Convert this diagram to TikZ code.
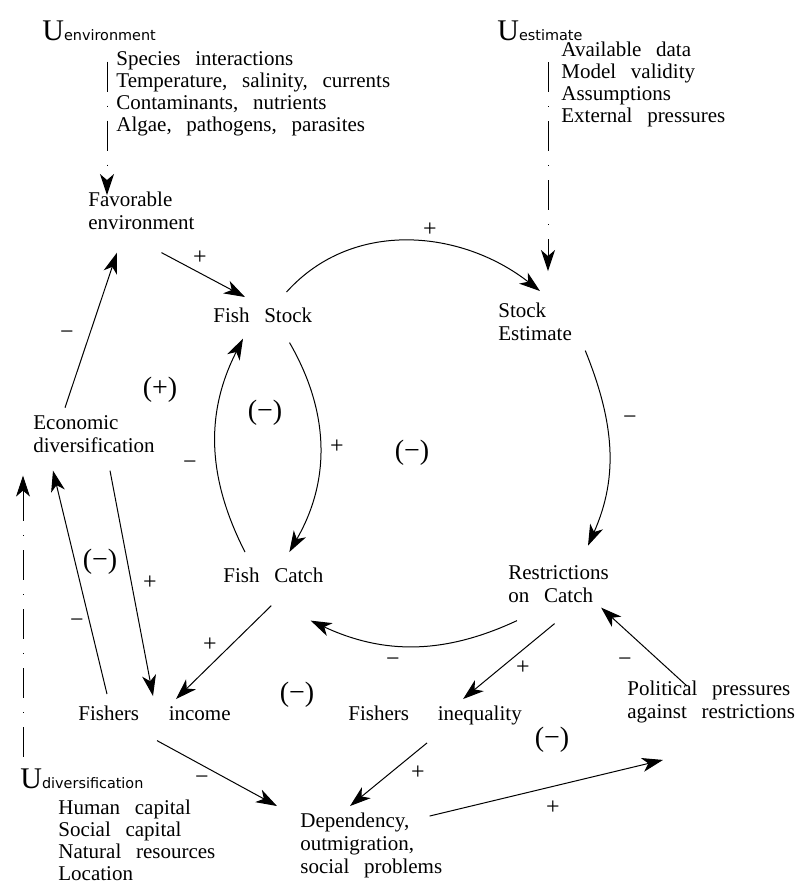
\documentclass[tikz,border=0pt]{standalone}
\usepackage{fontspec}
\setmainfont{Liberation Serif}[WordSpace=2.8]
\newfontfamily\usubfont{DejaVu Sans}
\usetikzlibrary{arrows.meta}
\newcommand{\ulabel}[1]{{\fontsize{15}{15}\selectfont U}{\usubfont\fontsize{7.2}{8}\selectfont #1}}
\tikzset{
  txt/.style={anchor=base west, inner sep=0pt, align=left, font=\fontsize{10.5}{11.5}\selectfont},
  lst/.style={txt, font=\fontsize{10.5}{11}\selectfont},
  sgn/.style={inner sep=0pt, font=\fontsize{12}{12}\selectfont},
  loopsgn/.style={inner sep=0pt, font=\fontsize{14}{14}\selectfont},
  arr/.style={-{Stealth[length=10.5pt,width=7pt,inset=3pt]}, line width=0.5pt},
  unc/.style={arr, dash pattern=on 15pt off 7pt on 0.5pt off 7pt},
}
\begin{document}
\begin{tikzpicture}[x=0.5pt,y=-0.5pt]
	\useasboundingbox (0,0) rectangle (804,885);
	%%uncertainty lists (multi-line nodes sit on their last line)
	\node[txt] (uenv) at (42,40) {\ulabel{environment}};
	\node[lst] (envlist) at (116,131) {Species interactions\\Temperature, salinity, currents\\Contaminants, nutrients\\Algae, pathogens, parasites};
	\node[txt] (uest) at (497,40) {\ulabel{estimate}};
	\node[lst] (estlist) at (561,122) {Available data\\Model validity\\Assumptions\\External pressures};
	\node[txt] (udiv) at (20,788) {\ulabel{diversification}};
	\node[lst] (divlist) at (58,880) {Human capital\\Social capital\\Natural resources\\Location};
	
	%%variables
	\node[txt] (favenv) at (88,229) {Favorable\\environment};
	\node[txt] (fstock) at (213,322) {Fish Stock};
	\node[txt] (stockest) at (498,340) {Stock\\Estimate};
	\node[txt] (econ) at (33,452) {Economic\\diversification};
	\node[txt] (fcatch) at (223,582) {Fish Catch};
	\node[txt] (restr) at (508,602) {Restrictions\\on Catch};
	\node[txt] (fincome) at (78,720) {Fishers\hspace{7.5pt} income};
	\node[txt] (fineq) at (348,720) {Fishers\hspace{7pt} inequality};
	\node[txt] (polit) at (627,718) {Political pressures\\against restrictions};
	\node[txt] (depend) at (300,873) {Dependency,\\outmigration,\\social problems};
	
	%links%
	\draw[unc] ([shift={(-9,11)}]envlist.north west) -- ([shift={(19,4)}]favenv.north west);
	\draw[unc] ([shift={(-13,21)}]estlist.north west) -- ([shift={(50,-31)}]stockest.north west);
	\draw[unc] ([shift={(3,-11)}]udiv.north west) -- ([shift={(-10,23)}]econ.south west);
	
	\draw[arr] ([shift={(20,23)}]favenv.south) -- ([shift={(32,-10)}]fstock.north west);
	\draw[arr] ([shift={(32,-7)}]econ.north west) -- ([shift={(29,23)}]favenv.south west);
	\draw[arr] ([shift={(-26,-15)}]fstock.north east) to[out=48,in=142] ([shift={(42,-11)}]stockest.north west);
	\draw[arr] ([shift={(13,10)}]stockest.south east) to[out=-68,in=66] ([shift={(80,-19)}]restr.north west);
	\draw[arr] ([shift={(-23,20)}]fstock.south east) to[out=-60,in=60] ([shift={(16,-15)}]fcatch.north);
	\draw[arr] ([shift={(22,-15)}]fcatch.north west) to[out=117,in=-117] ([shift={(30,16)}]fstock.south west);
	\draw[arr] ([shift={(9,18)}]restr.south west) to[out=-155,in=-25] ([shift={(-13,38)}]fcatch.south east);
	\draw[arr] ([shift={(60,6)}]polit.north west) -- ([shift={(-8,5)}]restr.south east);
	\draw[arr] ([shift={(-4,21)}]restr.south) -- ([shift={(28,-6)}]fineq.north);
	\draw[arr] ([shift={(-2,23)}]fcatch.south) -- ([shift={(-55,-6)}]fincome.north east);
	\draw[arr] ([shift={(77,18)}]econ.south west) -- ([shift={(75,-9)}]fincome.north west);
	\draw[arr] ([shift={(29,-11)}]fincome.north west) -- ([shift={(20,18)}]econ.south west);
	\draw[arr] ([shift={(79,20)}]fincome.south west) -- ([shift={(-23,-6)}]depend.north west);
	\draw[arr] ([shift={(79,18)}]fineq.south west) -- ([shift={(50,-6)}]depend.north west);
	\draw[arr] ([shift={(-13,4)}]depend.north east) -- ([shift={(36,37)}]polit.south west);
	
	%signs%
	\node[sgn] (p1) at (200,258) {+};
	\node[sgn] (p2) at (430,230) {+};
	\node[sgn] (m1) at (67,335) {−};
	\node[loopsgn] (l1) at (160,390) {(+)};
	\node[loopsgn] (l2) at (265,413) {(−)};
	\node[sgn] (p3) at (337,447) {+};
	\node[sgn] (m2) at (190,465) {−};
	\node[loopsgn] (l3) at (412,453) {(−)};
	\node[sgn] (m3) at (630,420) {−};
	\node[loopsgn] (l4) at (100,562) {(−)};
	\node[sgn] (p4) at (150,583) {+};
	\node[sgn] (m4) at (77,623) {−};
	\node[sgn] (p5) at (210,645) {+};
	\node[sgn] (m5) at (393,662) {−};
	\node[loopsgn] (l5) at (297,695) {(−)};
	\node[sgn] (p6) at (523,668) {+};
	\node[sgn] (m6) at (625,662) {−};
	\node[loopsgn] (l6) at (552,740) {(−)};
	\node[sgn] (p7) at (418,773) {+};
	\node[sgn] (m7) at (202,780) {−};
	\node[sgn] (p8) at (553,808) {+};
\end{tikzpicture}
\end{document}
